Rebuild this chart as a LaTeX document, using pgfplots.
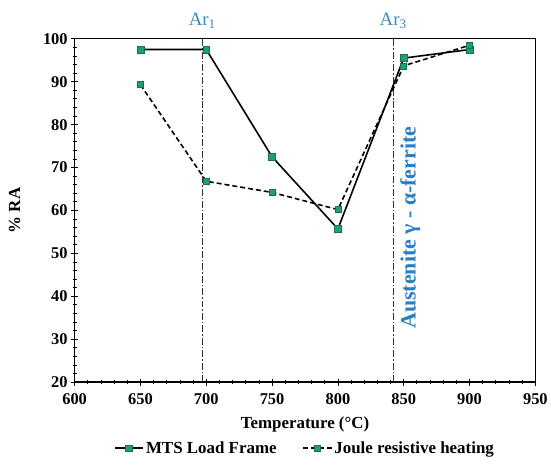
\documentclass[border=0pt]{standalone}
\usepackage{pgfplots}
\pgfplotsset{compat=1.18}
\usepackage{fontspec}
\setmainfont{Liberation Serif}
\definecolor{mkgreen}{HTML}{1FA070}
\definecolor{mkedge}{HTML}{17704F}
\definecolor{arblue}{HTML}{3B8BC2}
\definecolor{txtblue}{HTML}{2A7FC4}

\begin{document}
\begin{tikzpicture}
\begin{axis}[
    scale only axis,
    width=463pt, height=345pt,
    xmin=600, xmax=950, ymin=20, ymax=100,
    xtick={600,650,...,950}, ytick={20,30,...,100},
    minor x tick num=4, minor y tick num=4,
    tick pos=left, tick align=center,
    major tick length=7pt, minor tick length=4pt,
    axis line style={line width=1.3pt},
    every tick/.style={black, line width=0.8pt},
    /pgf/number format/assume math mode=true,
    ticklabel style={font=\fontsize{16.5}{20}\selectfont\bfseries},
    xticklabel style={yshift=-4pt},
    label style={font=\fontsize{17}{20}\selectfont\bfseries},
    xlabel={Temperature (°C)},
    ylabel={\% RA},
    xlabel shift=6pt,
    ylabel shift=16pt,
    clip=false,
    legend style={at={(0.5,-0.167)}, anchor=north, draw=none,
        legend columns=2, font=\fontsize{17}{20}\selectfont\bfseries,
        inner sep=0pt,
        /tikz/every even column/.append style={column sep=24pt}},
    legend image code/.code={%
        \draw[mark repeat=2,mark phase=2,#1]
            plot coordinates {(0cm,0cm) (0.5cm,0cm) (1.0cm,0cm)};},
    legend cell align=left,
]
% phase transition lines
\addplot[gray!40!black, dash pattern=on 7pt off 2pt on 1.5pt off 2pt, line width=1pt, forget plot] coordinates {(697,20) (697,100)};
\addplot[gray!40!black, dash pattern=on 7pt off 2pt on 1.5pt off 2pt, line width=1pt, forget plot] coordinates {(842,20) (842,100)};

\addplot[black, line width=1.6pt, mark=square*, mark size=3.4pt,
    mark options={fill=mkgreen, draw=mkedge, solid, line width=0.6pt}]
    coordinates {(650,97.5) (700,97.5) (750,72.5) (800,55.7) (850,95.5) (900,97.5)};
\addlegendentry{MTS Load Frame}
\addplot[black, line width=1.6pt, dash pattern=on 5pt off 3pt, mark=square*, mark size=3pt,
    mark options={fill=mkgreen, draw=mkedge, solid, line width=0.6pt}]
    coordinates {(650,89.3) (700,66.8) (750,64.2) (800,60.2) (850,93.7) (900,98.5)};
\addlegendentry{Joule resistive heating}

\node[arblue, font=\fontsize{19}{22}\selectfont, above=7pt] at (axis cs:697,100) {Ar\textsubscript{1}};
\node[arblue, font=\fontsize{19}{22}\selectfont, above=7pt] at (axis cs:842,100) {Ar\textsubscript{3}};
\node[txtblue, rotate=90, font=\fontsize{22}{25}\selectfont\bfseries] at (axis cs:855,56) {Austenite γ - α-ferrite};
\end{axis}
% page margins as in the reference
\path ([xshift=-75pt,yshift=-86pt]current axis.south west) rectangle ([xshift=13pt,yshift=39pt]current axis.north east);
\end{tikzpicture}
\end{document}
